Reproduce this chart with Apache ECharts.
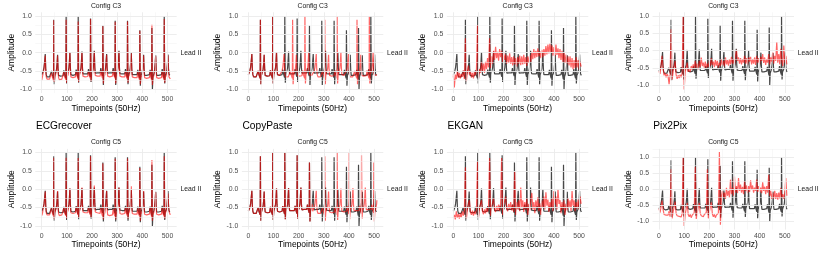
<!DOCTYPE html>
<html><head><meta charset="utf-8">
<script src="https://cdn.jsdelivr.net/npm/echarts@6/dist/echarts.min.js"></script>
<style>html,body{margin:0;padding:0;background:#fff}#c{width:830px;height:258px}</style>
</head><body><div id="c"></div>
<script>
// ---------------- DATA ----------------
const methods = ['ECGrecover', 'CopyPaste', 'EKGAN', 'Pix2Pix'];
const configs = ['Config C3', 'Config C5'];
const leadLabel = 'Lead II';
const xTickLabels = [0, 100, 200, 300, 400, 500];
const yTickLabels = [-1, -0.5, 0, 0.5, 1];

// ground truth (black), timepoints and amplitudes
const gtT = [
  0,3,6,9,12,14,16,18,21,26,31,
  36,39,42,45,47,48,50,52,56,59,61,63,65,67,70,75,80,
  85,88,91,94,96,97,99,101,105,108,110,112,114,116,119,124,129,
  134,137,140,143,144,145,147,149,153,156,158,160,162,164,167,172,178,
  183,186,189,192,193,194,196,198,202,205,207,209,211,213,216,221,227,
  232,235,238,241,242,243,245,247,251,254,256,258,260,262,265,270,276,
  281,284,287,290,291,292,294,296,300,303,305,307,309,311,314,319,325,
  330,333,336,339,340,341,343,345,349,352,354,356,358,360,363,368,374,
  379,382,385,388,389,390,392,394,398,401,403,405,407,409,412,417,423,
  428,431,434,436,437,438,440,442,446,449,451,453,455,457,460,465,471,
  476,479,482,485,486,487,489,491,495,498,500,502,504,506,509,511];
const gtV = [
  -0.6,-0.58,-0.5,-0.4,-0.2,-0.04,-0.45,-0.6,-0.66,-0.64,-0.66,
  -0.62,-0.5,-0.6,-0.62,-0.7,0.9,-0.86,-0.62,-0.58,-0.45,-0.3,-0.06,-0.45,-0.62,-0.66,-0.64,-0.66,
  -0.63,-0.48,-0.6,-0.62,-0.7,1.0,-0.84,-0.6,-0.56,-0.42,-0.25,0.02,-0.42,-0.6,-0.64,-0.62,-0.63,
  -0.6,-0.46,-0.58,-0.6,-0.68,1.0,-0.82,-0.6,-0.55,-0.42,-0.22,0.03,-0.42,-0.58,-0.6,-0.58,-0.6,
  -0.58,-0.45,-0.57,-0.58,-0.66,0.93,-0.8,-0.58,-0.52,-0.4,-0.2,0.05,-0.4,-0.56,-0.58,-0.55,-0.56,
  -0.55,-0.42,-0.55,-0.56,-0.64,0.73,-0.88,-0.6,-0.52,-0.4,-0.22,-0.04,-0.42,-0.56,-0.58,-0.55,-0.56,
  -0.55,-0.42,-0.55,-0.56,-0.66,0.87,-0.88,-0.6,-0.52,-0.4,-0.2,0.05,-0.42,-0.57,-0.6,-0.58,-0.6,
  -0.58,-0.45,-0.57,-0.6,-0.68,0.87,-0.86,-0.6,-0.54,-0.42,-0.22,0.0,-0.44,-0.6,-0.62,-0.6,-0.62,
  -0.6,-0.47,-0.6,-0.62,-0.7,0.61,-0.9,-0.62,-0.56,-0.45,-0.28,-0.06,-0.46,-0.62,-0.64,-0.62,-0.63,
  -0.6,-0.47,-0.6,-0.62,-0.72,0.67,-1.0,-0.66,-0.57,-0.45,-0.3,-0.07,-0.48,-0.62,-0.64,-0.62,-0.64,
  -0.6,-0.45,-0.6,-0.62,-0.7,1.0,-0.84,-0.62,-0.56,-0.45,-0.28,-0.05,-0.45,-0.58,-0.62,-0.6];

// ECGrecover reconstructions (same timepoints as gtT)
const ecgC3V = [
  -0.75,-0.7,-0.55,-0.45,-0.25,-0.08,-0.5,-0.66,-0.72,-0.7,-0.72,
  -0.68,-0.55,-0.66,-0.68,-0.76,0.88,-0.8,-0.66,-0.62,-0.5,-0.32,-0.08,-0.5,-0.68,-0.74,-0.7,-0.72,
  -0.7,-0.52,-0.66,-0.68,-0.74,0.9,-0.82,-0.66,-0.6,-0.45,-0.28,0.0,-0.48,-0.66,-0.7,-0.68,-0.7,
  -0.66,-0.5,-0.62,-0.66,-0.72,0.85,-0.8,-0.64,-0.6,-0.45,-0.25,0.02,-0.48,-0.64,-0.68,-0.66,-0.67,
  -0.65,-0.5,-0.62,-0.64,-0.7,0.92,-0.78,-0.64,-0.58,-0.44,-0.24,0.03,-0.46,-0.62,-0.66,-0.64,-0.65,
  -0.64,-0.48,-0.62,-0.64,-0.7,0.72,-0.84,-0.66,-0.6,-0.45,-0.26,-0.06,-0.48,-0.64,-0.68,-0.66,-0.66,
  -0.64,-0.48,-0.62,-0.64,-0.7,0.84,-0.84,-0.66,-0.6,-0.44,-0.24,0.03,-0.48,-0.64,-0.68,-0.66,-0.68,
  -0.66,-0.5,-0.64,-0.66,-0.72,0.85,-0.82,-0.66,-0.6,-0.46,-0.26,-0.02,-0.5,-0.66,-0.7,-0.68,-0.7,
  -0.68,-0.52,-0.66,-0.68,-0.74,0.6,-0.86,-0.68,-0.62,-0.5,-0.32,-0.08,-0.52,-0.68,-0.72,-0.7,-0.7,
  -0.68,-0.52,-0.66,-0.68,-0.76,0.76,-0.88,-0.7,-0.62,-0.5,-0.33,-0.1,-0.52,-0.68,-0.72,-0.7,-0.72,
  -0.68,-0.5,-0.66,-0.68,-0.74,0.92,-0.82,-0.68,-0.62,-0.5,-0.32,-0.08,-0.5,-0.66,-0.7,-0.72];
const ecgC5V = [
  -0.72,-0.66,-0.52,-0.42,-0.22,-0.06,-0.48,-0.64,-0.7,-0.68,-0.7,
  -0.66,-0.52,-0.64,-0.66,-0.74,0.86,-0.82,-0.64,-0.6,-0.48,-0.3,-0.05,-0.48,-0.66,-0.72,-0.68,-0.7,
  -0.68,-0.5,-0.64,-0.66,-0.72,0.86,-0.8,-0.64,-0.58,-0.44,-0.26,0.02,-0.46,-0.64,-0.68,-0.66,-0.68,
  -0.64,-0.48,-0.6,-0.64,-0.7,0.85,-0.78,-0.62,-0.58,-0.44,-0.24,0.05,-0.46,-0.62,-0.66,-0.64,-0.66,
  -0.64,-0.5,-0.62,-0.64,-0.7,0.9,-0.76,-0.62,-0.56,-0.42,-0.22,0.1,-0.44,-0.62,-0.66,-0.64,-0.66,
  -0.66,-0.5,-0.64,-0.66,-0.74,0.7,-0.82,-0.7,-0.64,-0.5,-0.3,-0.05,-0.52,-0.7,-0.74,-0.72,-0.72,
  -0.7,-0.54,-0.66,-0.68,-0.74,0.83,-0.82,-0.68,-0.62,-0.46,-0.26,0.05,-0.5,-0.66,-0.7,-0.68,-0.7,
  -0.66,-0.5,-0.64,-0.66,-0.72,0.84,-0.8,-0.66,-0.6,-0.44,-0.22,0.08,-0.48,-0.66,-0.7,-0.68,-0.7,
  -0.68,-0.52,-0.66,-0.68,-0.74,0.58,-0.86,-0.68,-0.62,-0.48,-0.3,-0.05,-0.52,-0.68,-0.72,-0.7,-0.7,
  -0.68,-0.5,-0.66,-0.68,-0.76,0.8,-0.86,-0.7,-0.62,-0.48,-0.3,-0.08,-0.52,-0.68,-0.72,-0.7,-0.72,
  -0.68,-0.5,-0.66,-0.68,-0.74,0.9,-0.8,-0.66,-0.58,-0.42,-0.2,-0.12,-0.4,-0.6,-0.66,-0.7];

// CopyPaste C3 reconstruction (first 128 points repeated)
const cpC3T = [
  0,3,6,9,12,14,16,18,21,26,31,36,39,42,45,47,48,50,52,56,59,61,63,65,67,70,75,80,85,88,91,94,96,97,99,101,105,108,110,112,114,116,119,124,
  128,131,134,137,140,142,144,146,149,154,159,164,167,170,173,175,176,178,180,184,187,189,191,193,195,198,203,208,213,216,219,222,224,225,227,229,233,236,238,240,242,244,247,252,
  256,259,262,265,268,270,272,274,277,282,287,292,295,298,301,303,304,306,308,312,315,317,319,321,323,326,331,336,341,344,347,350,352,353,355,357,361,364,366,368,370,372,375,380,
  384,387,390,393,396,398,400,402,405,410,415,420,423,426,429,431,432,434,436,440,443,445,447,449,451,454,459,464,469,472,475,478,480,481,483,485,489,492,494,496,498,500,503,508,
  511];
const cpC3V = [
  -0.6,-0.58,-0.5,-0.4,-0.2,-0.04,-0.45,-0.6,-0.66,-0.64,-0.66,-0.62,-0.5,-0.6,-0.62,-0.7,0.9,-0.86,-0.62,-0.58,-0.45,-0.3,-0.06,-0.45,-0.62,-0.66,-0.64,-0.66,-0.63,-0.48,-0.6,-0.62,-0.7,1.0,-0.84,-0.6,-0.56,-0.42,-0.25,0.02,-0.42,-0.6,-0.64,-0.62,
  -0.6,-0.58,-0.5,-0.4,-0.2,-0.04,-0.45,-0.6,-0.66,-0.64,-0.66,-0.62,-0.5,-0.6,-0.62,-0.7,0.9,-0.86,-0.62,-0.58,-0.45,-0.3,-0.06,-0.45,-0.62,-0.66,-0.64,-0.66,-0.63,-0.48,-0.6,-0.62,-0.7,1.0,-0.84,-0.6,-0.56,-0.42,-0.25,0.02,-0.42,-0.6,-0.64,-0.62,
  -0.6,-0.58,-0.5,-0.4,-0.2,-0.04,-0.45,-0.6,-0.66,-0.64,-0.66,-0.62,-0.5,-0.6,-0.62,-0.7,0.9,-0.86,-0.62,-0.58,-0.45,-0.3,-0.06,-0.45,-0.62,-0.66,-0.64,-0.66,-0.63,-0.48,-0.6,-0.62,-0.7,1.0,-0.84,-0.6,-0.56,-0.42,-0.25,0.02,-0.42,-0.6,-0.64,-0.62,
  -0.6,-0.58,-0.5,-0.4,-0.2,-0.04,-0.45,-0.6,-0.66,-0.64,-0.66,-0.62,-0.5,-0.6,-0.62,-0.7,0.9,-0.86,-0.62,-0.58,-0.45,-0.3,-0.06,-0.45,-0.62,-0.66,-0.64,-0.66,-0.63,-0.48,-0.6,-0.62,-0.7,1.0,-0.84,-0.6,-0.56,-0.42,-0.25,0.02,-0.42,-0.6,-0.64,-0.62,
  -0.6];

// CopyPaste C5 reconstruction (first 256 points, then repeated)
const cpC5T = [
  0,3,6,9,12,14,16,18,21,26,31,
  36,39,42,45,47,48,50,52,56,59,61,63,65,67,70,75,80,
  85,88,91,94,96,97,99,101,105,108,110,112,114,116,119,124,129,
  134,137,140,143,144,145,147,149,153,156,158,160,162,164,167,172,178,
  183,186,189,192,193,194,196,198,202,205,207,209,211,213,216,221,227,
  232,235,238,241,242,243,245,247,251,254,
  256,259,262,265,268,270,272,274,277,282,287,
  292,295,298,301,303,304,306,308,312,315,317,319,321,323,326,331,336,
  341,344,347,350,352,353,355,357,361,364,366,368,370,372,375,380,385,
  390,393,396,399,400,401,403,405,409,412,414,416,418,420,423,428,434,
  439,442,445,448,449,450,452,454,458,461,463,465,467,469,472,477,483,
  488,491,494,497,498,499,501,503,507,510,
  511];
const cpC5V = [
  -0.6,-0.58,-0.5,-0.4,-0.2,-0.04,-0.45,-0.6,-0.66,-0.64,-0.66,
  -0.62,-0.5,-0.6,-0.62,-0.7,0.9,-0.86,-0.62,-0.58,-0.45,-0.3,-0.06,-0.45,-0.62,-0.66,-0.64,-0.66,
  -0.63,-0.48,-0.6,-0.62,-0.7,1.0,-0.84,-0.6,-0.56,-0.42,-0.25,0.02,-0.42,-0.6,-0.64,-0.62,-0.63,
  -0.6,-0.46,-0.58,-0.6,-0.68,1.0,-0.82,-0.6,-0.55,-0.42,-0.22,0.03,-0.42,-0.58,-0.6,-0.58,-0.6,
  -0.58,-0.45,-0.57,-0.58,-0.66,0.93,-0.8,-0.58,-0.52,-0.4,-0.2,0.05,-0.4,-0.56,-0.58,-0.55,-0.56,
  -0.55,-0.42,-0.55,-0.56,-0.64,0.73,-0.88,-0.6,-0.52,-0.4,
  -0.6,-0.58,-0.5,-0.4,-0.2,-0.04,-0.45,-0.6,-0.66,-0.64,-0.66,
  -0.62,-0.5,-0.6,-0.62,-0.7,0.9,-0.86,-0.62,-0.58,-0.45,-0.3,-0.06,-0.45,-0.62,-0.66,-0.64,-0.66,
  -0.63,-0.48,-0.6,-0.62,-0.7,1.0,-0.84,-0.6,-0.56,-0.42,-0.25,0.02,-0.42,-0.6,-0.64,-0.62,-0.63,
  -0.6,-0.46,-0.58,-0.6,-0.68,1.0,-0.82,-0.6,-0.55,-0.42,-0.22,0.03,-0.42,-0.58,-0.6,-0.58,-0.6,
  -0.58,-0.45,-0.57,-0.58,-0.66,0.93,-0.8,-0.58,-0.52,-0.4,-0.2,0.05,-0.4,-0.56,-0.58,-0.55,-0.56,
  -0.55,-0.42,-0.55,-0.56,-0.64,0.73,-0.88,-0.6,-0.52,-0.4,
  -0.3];

// noisy reconstructions, one value every 4 timepoints (0,4,...,508)
const noiseStep = 4;
const ekC3V = [
  -0.62,-0.95,-0.6,-0.72,-0.5,-0.68,-0.55,-0.7,-0.58,-0.66,-0.48,-0.72,0.39,-0.78,-0.5,-0.35,
  -0.6,-0.5,-0.68,-0.55,-0.7,-0.52,-0.62,-0.45,0.75,-0.7,-0.45,-0.55,-0.25,-0.5,-0.3,-0.55,
  -0.25,-0.45,-0.15,-0.4,0.39,-0.42,-0.1,-0.3,0.05,-0.2,0.16,-0.15,0.02,-0.22,0.1,-0.12,
  0.05,-0.25,0.0,-0.2,-0.05,-0.3,-0.08,-0.28,-0.02,-0.3,-0.12,-0.35,-0.1,-0.32,-0.15,-0.38,
  -0.12,-0.3,-0.08,-0.34,-0.1,-0.32,-0.06,-0.3,-0.12,-0.36,-0.1,-0.28,-0.05,-0.25,0.02,-0.18,
  0.1,-0.15,0.05,-0.12,0.12,-0.1,0.04,-0.15,0.08,-0.12,0.1,-0.08,0.18,-0.05,0.22,-0.02,
  0.25,0.0,0.2,-0.08,0.15,-0.1,0.22,-0.06,0.12,-0.15,0.1,-0.2,0.05,-0.25,0.0,-0.28,
  -0.05,-0.3,-0.1,-0.35,-0.1,-0.4,-0.15,-0.45,-0.2,-0.42,-0.12,-0.4,-0.2,-0.46,-0.25,-0.38];
const ekC5V = [
  -0.78,-0.7,-0.82,-0.6,-0.78,-0.68,-0.8,-0.66,-0.76,-0.6,-0.72,-0.58,0.6,-0.8,-0.55,-0.4,
  -0.3,-0.62,-0.7,-0.58,-0.72,-0.6,-0.68,-0.55,0.75,-0.78,-0.5,-0.45,-0.3,-0.6,-0.68,-0.55,
  -0.66,-0.5,-0.62,-0.48,0.85,-0.72,-0.45,-0.38,-0.25,-0.55,-0.62,-0.45,-0.58,-0.42,-0.6,-0.4,
  0.85,-0.7,-0.42,-0.32,-0.2,-0.52,-0.6,-0.4,-0.55,-0.35,-0.58,-0.42,-0.62,0.5,-0.7,-0.35,
  -0.55,-0.3,-0.6,0.05,-0.5,-0.3,-0.62,-0.35,-0.55,-0.25,-0.7,-0.4,-0.58,-0.3,-0.1,-0.55,
  -0.35,-0.65,-0.3,-0.5,-0.22,-0.6,-0.38,-0.7,-0.3,-0.5,-0.2,-0.55,-0.08,-0.45,-0.28,-0.62,
  -0.35,-0.5,-0.25,-0.6,-0.05,-0.42,-0.2,-0.55,0.0,-0.4,-0.3,-0.65,-0.35,-0.55,-0.3,-0.7,
  -0.4,-0.58,-0.25,-0.5,-0.3,-0.6,-0.05,-0.45,-0.3,-0.6,-0.35,-0.52,-0.28,-0.55,-0.2,-0.4];
const pxC3V = [
  -0.6,-0.68,-0.45,-0.15,-0.5,-0.72,-0.65,-0.78,-0.68,-0.75,-0.98,-0.7,0.62,-0.85,-0.62,-0.45,
  -0.3,-0.7,-0.82,-0.72,-0.8,-0.7,-0.78,-0.65,1.0,-1.13,-0.62,-0.5,-0.35,-0.62,-0.55,-0.62,
  -0.45,-0.55,-0.4,-0.52,-0.3,-0.5,-0.38,-0.55,-0.3,-0.48,-0.2,-0.45,-0.35,-0.5,-0.32,-0.52,
  -0.38,-0.48,-0.3,-0.45,-0.22,-0.42,-0.32,-0.48,-0.28,-0.44,-0.3,-0.5,-0.35,-0.45,-0.25,-0.42,
  -0.3,-0.46,-0.2,-0.4,-0.28,-0.44,-0.25,-0.4,-0.18,-0.38,-0.25,-0.42,-0.15,0.02,-0.3,-0.2,
  -0.38,-0.22,-0.4,-0.25,-0.35,-0.15,-0.38,-0.22,-0.4,-0.2,-0.32,-0.18,-0.4,-0.25,-0.38,-0.2,
  -0.42,-0.15,-0.35,-0.22,-0.4,-0.18,-0.3,-0.1,-0.36,-0.2,-0.42,-0.25,-0.35,-0.1,-0.4,-0.2,
  -0.32,-0.05,-0.38,-0.15,-0.3,0.25,-0.35,-0.1,-0.4,0.05,-0.3,-0.45,0.15,-0.35,-0.15,-0.4];
const pxC5V = [
  -0.6,-0.72,-0.55,-0.35,-0.62,-0.78,-0.72,-0.8,-0.74,-0.8,-0.68,-0.85,0.62,-0.9,-0.7,-0.55,
  -0.38,-0.75,-0.82,-0.76,-0.84,-0.78,-0.86,-0.75,1.0,-1.14,-0.78,-0.6,-0.42,-0.78,-0.85,-0.78,
  -0.88,-0.8,-0.86,-0.72,0.7,-0.92,-0.72,-0.55,-0.42,-0.75,-0.82,-0.76,-0.85,-0.78,-0.84,-0.72,
  0.62,-0.9,-0.7,-0.55,-0.4,-0.76,-0.85,-0.78,-0.88,-0.8,-0.86,-0.74,1.16,-1.1,-0.2,-0.05,
  -0.25,-0.1,-0.3,0.05,-0.2,-0.05,-0.25,0.3,-0.15,0.05,-0.2,0.4,-0.1,0.1,-0.12,0.35,
  -0.05,0.15,-0.1,0.08,-0.15,0.25,-0.05,0.12,-0.12,0.1,-0.08,0.28,-0.02,0.12,-0.1,0.05,
  -0.05,0.3,-0.08,0.1,-0.1,0.05,-0.12,0.22,-0.05,0.08,-0.15,0.1,-0.1,0.45,-0.2,-0.05,
  -0.3,-0.1,-0.28,-0.05,-0.3,-0.12,-0.32,-0.1,-0.28,0.05,-0.25,-0.15,-0.3,-0.1,0.35,-0.2];

// ---------------- LAYOUT / STYLE ----------------
const FONT = 'Liberation Sans, Arial, Helvetica, sans-serif';
const colLeft = [35.3, 241.9, 446.9, 652.6];
const gridW = 141.4;
const rowTop = [12.3, 148.9];
const gridH = 80.7;
const xMin = -25.55, xMax = 536.55;
const yRanges = [
  [[-1.1, 1.1], [-1.1, 1.1], [-1.1, 1.1], [-1.235, 1.115]],
  [[-1.1, 1.1], [-1.1, 1.1], [-1.1, 1.1], [-1.25, 1.255]]];
const minorX = [50, 150, 250, 350, 450];
const minorY = [[[-0.75,-0.25,0.25,0.75],[-0.75,-0.25,0.25,0.75],[-0.75,-0.25,0.25,0.75],[-0.75,-0.25,0.25,0.75]],
                [[-0.75,-0.25,0.25,0.75],[-0.75,-0.25,0.25,0.75],[-0.75,-0.25,0.25,0.75],[-0.75,-0.25,0.25,0.75,1.25]]];

function pairs(ts, vs) { return ts.map((t, i) => [t, vs[i]]); }
function stepped(vs) { return vs.map((v, i) => [i * noiseStep, v]); }

const gtData = pairs(gtT, gtV);
const redData = [
  [pairs(gtT, ecgC3V), pairs(cpC3T, cpC3V), stepped(ekC3V), stepped(pxC3V)],
  [pairs(gtT, ecgC5V), pairs(cpC5T, cpC5V), stepped(ekC5V), stepped(pxC5V)]];

const grids = [], xAxes = [], yAxes = [], series = [], graphics = [];
let k = 0;
for (let r = 0; r < 2; r++) {
  for (let c = 0; c < 4; c++) {
    grids.push({ left: colLeft[c], top: rowTop[r], width: gridW, height: gridH });
    xAxes.push({
      gridIndex: k, type: 'value', min: xMin, max: xMax,
      axisLine: { show: false }, axisTick: { show: false }, splitLine: { show: false },
      axisLabel: { customValues: xTickLabels, fontSize: 6.9, color: '#4d4d4d', margin: 2.5, fontFamily: FONT },
      name: 'Timepoints (50Hz)', nameLocation: 'middle', nameGap: 11,
      nameTextStyle: { fontSize: 8.5, color: '#000', fontFamily: FONT, verticalAlign: 'top' }
    });
    yAxes.push({
      gridIndex: k, type: 'value', min: yRanges[r][c][0], max: yRanges[r][c][1],
      axisLine: { show: false }, axisTick: { show: false }, splitLine: { show: false },
      axisLabel: { customValues: yTickLabels, formatter: v => v.toFixed(1), fontSize: 6.9, color: '#4d4d4d', margin: 3.5, fontFamily: FONT },
      name: 'Amplitude', nameLocation: 'middle', nameRotate: 90, nameGap: 18,
      nameTextStyle: { fontSize: 8.5, color: '#000', fontFamily: FONT }
    });
    const ml = [];
    const major = { color: '#ebebeb', width: 0.9, type: 'solid' };
    const minor = { color: '#f1f1f1', width: 0.5, type: 'solid' };
    minorX.forEach(v => ml.push({ xAxis: v, lineStyle: minor }));
    minorY[r][c].forEach(v => ml.push({ yAxis: v, lineStyle: minor }));
    xTickLabels.forEach(v => ml.push({ xAxis: v, lineStyle: major }));
    yTickLabels.forEach(v => ml.push({ yAxis: v, lineStyle: major }));
    series.push({
      type: 'line', xAxisIndex: k, yAxisIndex: k, data: [], silent: true, z: 0, animation: false,
      markLine: { silent: true, symbol: ['none', 'none'], label: { show: false }, emphasis: { disabled: true },
        animation: false, lineStyle: { type: 'solid' }, data: ml }
    });
    series.push({
      type: 'line', xAxisIndex: k, yAxisIndex: k, data: gtData, showSymbol: false, symbol: 'none',
      lineStyle: { color: 'rgba(0,0,0,0.72)', width: 1.2 }, z: 2, animation: false, silent: true
    });
    series.push({
      type: 'line', xAxisIndex: k, yAxisIndex: k, data: redData[r][c], showSymbol: false, symbol: 'none',
      lineStyle: { color: 'rgba(255,0,0,0.6)', width: 1.2 }, z: 3, animation: false, silent: true
    });
    graphics.push({ type: 'text', x: colLeft[c] + gridW / 2, y: rowTop[r] - 6.3, silent: true,
      style: { text: configs[r], fontSize: 6.8, fontFamily: FONT, fill: '#1a1a1a', align: 'center', verticalAlign: 'middle' } });
    graphics.push({ type: 'text', x: colLeft[c] + gridW + 3.8, y: rowTop[r] + gridH / 2, silent: true,
      style: { text: leadLabel, fontSize: 6.8, fontFamily: FONT, fill: '#1a1a1a', align: 'left', verticalAlign: 'middle' } });
    k++;
  }
}
for (let c = 0; c < 4; c++) {
  graphics.push({ type: 'text', x: colLeft[c] + 0.6, y: 126, silent: true,
    style: { text: methods[c], fontSize: 10.2, fontFamily: FONT, fill: '#000', align: 'left', verticalAlign: 'middle' } });
}

const chart = echarts.init(document.getElementById('c'), null, { renderer: 'canvas', width: 830, height: 258 });
chart.setOption({
  animation: false,
  backgroundColor: '#fff',
  grid: grids, xAxis: xAxes, yAxis: yAxes, series: series,
  graphic: { elements: graphics }
});
</script></body></html>
